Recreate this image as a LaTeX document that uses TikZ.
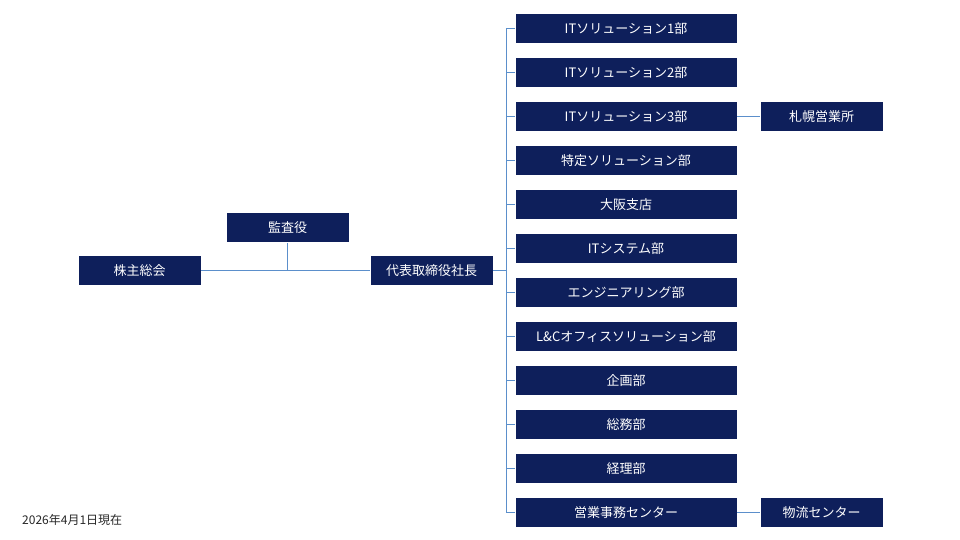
\documentclass[tikz,border=0pt]{standalone}
\usepackage{fontspec}
\setmainfont{Noto Sans CJK JP}
\definecolor{navy}{HTML}{0E1F5B}
\definecolor{lnk}{HTML}{5B8FCB}
\begin{document}
\begin{tikzpicture}[x=1pt,y=-1pt,
  box/.style={draw=white,line width=0.6pt,fill=navy,text=white,minimum width=123pt,minimum height=30pt,inner sep=0pt,font=\fontsize{13}{15}\selectfont},
  wbox/.style={box,minimum width=222pt},
  conn/.style={draw=lnk,line width=0.8pt}]
\useasboundingbox (0,0) rectangle (960,540);
\node[box] (kabu) at (139.5,270.5) {株主総会};
\node[box] (kansa) at (287.5,227.5) {監査役};
\node[box] (ceo) at (431.5,270.5) {代表取締役社長};
\coordinate (tr) at (506,270.5);
\foreach \i/\t in {1/ITソリューション1部,2/ITソリューション2部,3/ITソリューション3部,4/特定ソリューション部,5/大阪支店,6/ITシステム部,7/エンジニアリング部,8/L\&Cオフィスソリューション部,9/企画部,10/総務部,11/経理部,12/営業事務センター}{
  \node[wbox] (d\i) at (626,{28.5+44*(\i-1)}) {\t};
  \draw[conn] (506,{28.5+44*(\i-1)}) -- (d\i.west);
}
\draw[conn] (506,28.5) -- (506,512.5);
\node[box] (sap) at (821.5,116.5) {札幌営業所};
\node[box] (but) at (821.5,512.5) {物流センター};
\draw[conn] (kabu.east) -- (ceo.west);
\draw[conn] (kansa.south) -- (kansa.south |- kabu.east);
\draw[conn] (ceo.east) -- (tr);
\draw[conn] (d3.east) -- (sap.west);
\draw[conn] (d12.east) -- (but.west);
\node[anchor=west,inner sep=0pt,font=\fontsize{12}{14}\selectfont,text=black!85] (date) at (22,520) {2026年4月1日現在};
\end{tikzpicture}
\end{document}
